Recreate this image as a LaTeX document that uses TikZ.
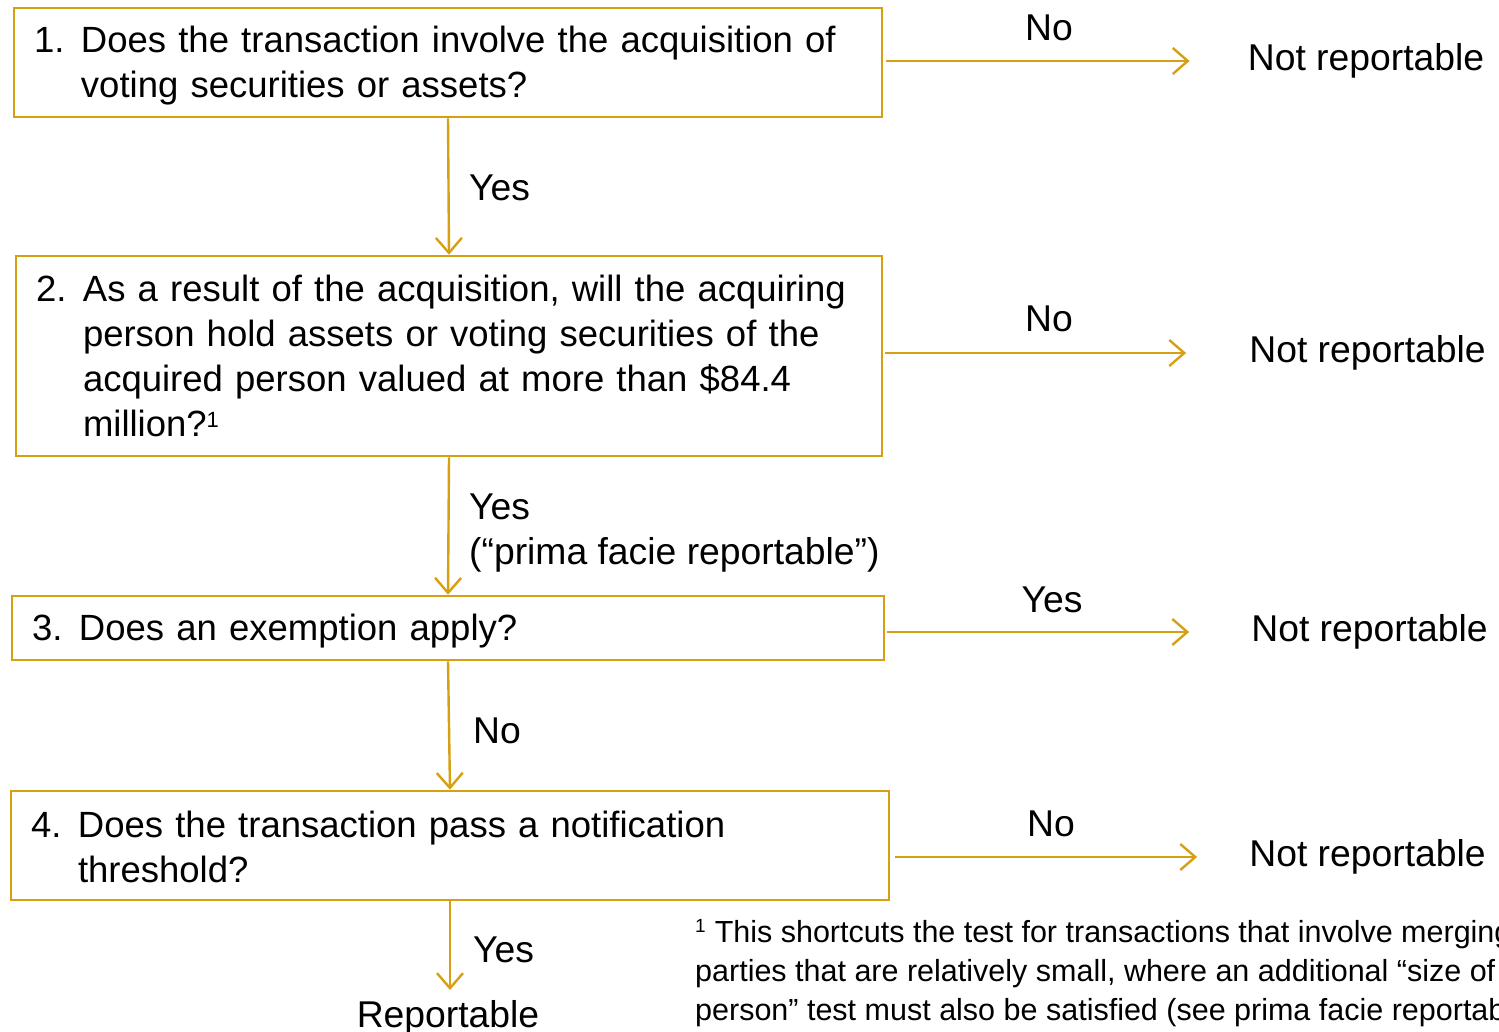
\documentclass[tikz,border=0pt]{standalone}
\usepackage{fontspec}
\setmainfont{Liberation Sans}
\usetikzlibrary{arrows.meta}
\definecolor{gold}{RGB}{214,160,18}
\tikzset{
  qbox/.style={draw=gold, line width=2.6pt, rectangle, align=left, inner xsep=20pt,
    inner ysep=0pt, font=\fontsize{36.5}{45}\selectfont, anchor=center},
  arr/.style={draw=gold, line width=2.4pt, -{Straight Barb[length=15pt,width=26pt,line width=2.4pt]}},
  lbl/.style={font=\fontsize{37.3}{45}\selectfont, inner sep=0pt, align=left},
  outcome/.style={font=\fontsize{37.3}{45}\selectfont, inner sep=0pt},
  fnote/.style={font=\fontsize{30.5}{39}\selectfont, inner sep=0pt, anchor=base west},
}
\newcommand{\hang}{\hspace*{47pt}}
\begin{document}
\begin{tikzpicture}[x=1pt,y=-1pt]
\useasboundingbox (0,0) rectangle (1499,1032);
\fill[white] (0,0) rectangle (1499,1032);

% question boxes
\node[qbox, minimum width=868pt, minimum height=109pt, text width=828pt] (q1) at (448,62.5)
  {\rule{0pt}{33pt}\makebox[47pt][l]{1.}Does the transaction involve the acquisition of\\ \hang voting securities or assets?};
\node[qbox, minimum width=866pt, minimum height=200pt, text width=826pt] (q2) at (449,356)
  {\makebox[47pt][l]{2.}As a result of the acquisition, will the acquiring\\ \hang person hold assets or voting securities of the\\ \hang acquired person valued at more than \$84.4\\ \hang million?\textsuperscript{\fontsize{22}{22}\selectfont 1}};
\node[qbox, minimum width=872pt, minimum height=64pt, text width=832pt] (q3) at (448,628)
  {\rule{0pt}{32pt}\makebox[47pt][l]{3.}Does an exemption apply?};
\node[qbox, minimum width=878pt, minimum height=109pt, text width=838pt] (q4) at (450,845.5)
  {\rule{0pt}{30pt}\makebox[47pt][l]{4.}Does the transaction pass a notification\\ \hang threshold?};

% outcomes
\node[outcome] (n1) at (1366,61) {Not reportable};
\node[outcome] (n2) at (1367.5,353) {Not reportable};
\node[outcome] (n3) at (1369.5,632) {Not reportable};
\node[outcome] (n4) at (1367.5,857) {Not reportable};
\node[outcome, anchor=base] (rep) at (448,1027) {Reportable};

% vertical connectors
\draw[arr] (q1.south) -- (q2.north);
\draw[arr] (q2.south) -- (q3.north);
\draw[arr] (q3.south) -- (q4.north);
\draw[arr] (q4.south) -- (q4.south |- 0,990);

% horizontal connectors
\draw[arr, shorten <=3pt, shorten >=58pt] (q1.east |- n1.west) -- (n1.west);
\draw[arr, shorten <=2pt, shorten >=63pt] (q2.east |- n2.west) -- (n2.west);
\draw[arr, shorten <=2pt, shorten >=62pt] (q3.east |- n3.west) -- (n3.west);
\draw[arr, shorten <=5pt, shorten >=52pt] (q4.east |- n4.west) -- (n4.west);

% connector labels
\node[lbl, anchor=base west] (y1) at (469,201) {Yes};
\node[lbl, anchor=base west] (y2) at (469,519) {Yes};
\node[lbl, anchor=base west] (y2b) at (469,564) {(“prima facie reportable”)};
\node[lbl, anchor=base west] (no3) at (473,743) {No};
\node[lbl, anchor=base west] (y4) at (473,962) {Yes};
\node[lbl, anchor=base] (no1) at (1049,41) {No};
\node[lbl, anchor=base] (no2) at (1049,331) {No};
\node[lbl, anchor=base] (ye3) at (1052,612) {Yes};
\node[lbl, anchor=base] (no4) at (1051,836) {No};

% footnote, running past the right edge
\begin{scope}
\clip (0,0) rectangle (1499,1032);
\node[fnote] (fn1) at (695,942) {\textsuperscript{\fontsize{19}{19}\selectfont 1} This shortcuts the test for transactions that involve merging};
\node[fnote] (fn2) at (695,981) {parties that are relatively small, where an additional “size of};
\node[fnote] (fn3) at (695,1020) {person” test must also be satisfied (see prima facie reportability)};
\end{scope}
\end{tikzpicture}
\end{document}
